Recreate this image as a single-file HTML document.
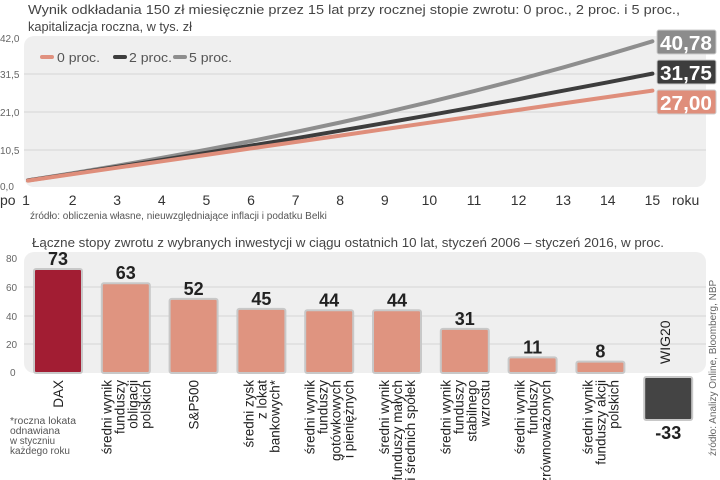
<!DOCTYPE html>
<html><head><meta charset="utf-8"><style>
body{margin:0;background:#fff;}
svg{display:block;font-family:"Liberation Sans",sans-serif;}
</style></head><body>
<svg id="s" width="720" height="480" viewBox="0 0 720 480">
<text x="28" y="14" font-size="13" fill="#444" textLength="652" lengthAdjust="spacingAndGlyphs">Wynik odkładania 150 zł miesięcznie przez 15 lat przy rocznej stopie zwrotu: 0 proc., 2 proc. i 5 proc.,</text>
<text x="28" y="31" font-size="13" fill="#444" textLength="164" lengthAdjust="spacingAndGlyphs">kapitalizacja roczna, w tys. zł</text>
<rect x="24" y="36" width="682" height="151" rx="10" fill="#efefef"/>
<g stroke="#d4d4d4" stroke-width="1">
<line x1="24" y1="74" x2="706" y2="74"/><line x1="24" y1="112" x2="706" y2="112"/><line x1="24" y1="150" x2="706" y2="150"/>
</g>
<g font-size="10" fill="#666">
<text x="0" y="42">42,0</text><text x="0" y="78">31,5</text><text x="0" y="116">21,0</text><text x="0" y="154">10,5</text><text x="0" y="190">0,0</text>
</g>
<g font-size="13" fill="#555">
<line x1="42" y1="57" x2="52" y2="57" stroke="#e0917f" stroke-width="4" stroke-linecap="round"/><text x="57" y="62" textLength="43" lengthAdjust="spacingAndGlyphs">0 proc.</text>
<line x1="115" y1="57" x2="125" y2="57" stroke="#3d3d3d" stroke-width="4" stroke-linecap="round"/><text x="129" y="62" textLength="43" lengthAdjust="spacingAndGlyphs">2 proc.</text>
<line x1="175" y1="57" x2="185" y2="57" stroke="#8e8e8e" stroke-width="4" stroke-linecap="round"/><text x="189" y="62" textLength="43" lengthAdjust="spacingAndGlyphs">5 proc.</text>
</g>
<g id="lines" fill="none" stroke-width="4" stroke-linecap="round"></g>
<rect x="657" y="30" width="59" height="24" rx="2" fill="#8c8c8c" stroke="#ccc"/>
<rect x="657" y="60" width="59" height="24" rx="2" fill="#3d3d3d" stroke="#ccc"/>
<rect x="657" y="90" width="59" height="24" rx="2" fill="#df8e7b" stroke="#ccc"/>
<g font-size="20" font-weight="bold" fill="#fff" text-anchor="middle">
<text x="686" y="50" textLength="52" lengthAdjust="spacingAndGlyphs">40,78</text>
<text x="686" y="80" textLength="52" lengthAdjust="spacingAndGlyphs">31,75</text>
<text x="686" y="110" textLength="52" lengthAdjust="spacingAndGlyphs">27,00</text>
</g>
<g id="xt" font-size="14" fill="#333" text-anchor="middle"></g>
<text x="0" y="205" font-size="14" fill="#333">po</text>
<text x="672" y="205" font-size="14" fill="#333">roku</text>
<text x="30" y="219" font-size="10" fill="#555">źródło: obliczenia własne, nieuwzględniające inflacji i podatku Belki</text>

<text x="32" y="247" font-size="13" fill="#444" textLength="632" lengthAdjust="spacingAndGlyphs">Łączne stopy zwrotu z wybranych inwestycji w ciągu ostatnich 10 lat, styczeń 2006 – styczeń 2016, w proc.</text>
<rect x="24" y="252" width="682" height="121" rx="10" fill="#efefef"/>
<g stroke="#d4d4d4"><line x1="24" y1="287" x2="706" y2="287"/><line x1="24" y1="316" x2="706" y2="316"/><line x1="24" y1="344" x2="706" y2="344"/></g>
<g font-size="10" fill="#666"><text x="6" y="262">80</text><text x="6" y="291">60</text><text x="6" y="320">40</text><text x="6" y="348">20</text><text x="10" y="376">0</text></g>
<g id="bars"></g>
<g font-size="10" fill="#555">
<text x="10" y="424" textLength="66" lengthAdjust="spacingAndGlyphs">*roczna lokata</text><text x="10" y="434" textLength="50" lengthAdjust="spacingAndGlyphs">odnawiana</text><text x="10" y="444" textLength="45" lengthAdjust="spacingAndGlyphs">w styczniu</text><text x="10" y="454" textLength="60" lengthAdjust="spacingAndGlyphs">każdego roku</text>
</g>
<text transform="translate(716,456) rotate(-90)" font-size="10" fill="#666">źródło: Analizy Online, Bloomberg, NBP</text>
</svg>
<script>
var NS="http://www.w3.org/2000/svg";
function el(p,t,a,txt){var e=document.createElementNS(NS,t);for(var k in a)e.setAttribute(k,a[k]);if(txt!==undefined)e.textContent=txt;document.getElementById(p).appendChild(e);return e;}
function X(n){return 28+(n-1)*44.6;}function Y(v){return 187-v*150/42;}
var ser=[[0,"#df8e7b"],[0.02,"#3d3d3d"],[0.05,"#8e8e8e"]].reverse();
ser.forEach(function(s){var r=s[0],pts=[];for(var n=1;n<=15;n++){var v=r==0?1.8*n:1.8*(1+r)*(Math.pow(1+r,n)-1)/r;pts.push(X(n).toFixed(1)+","+Y(v).toFixed(1));}
el("lines","polyline",{points:pts.join(" "),stroke:s[1]});});
for(var n=1;n<=15;n++)el("xt","text",{x:X(n)+(n==1?-2:0),y:205},""+n);
var B=[[73,"#a21d33",["DAX"]],[63,"#df9480",["średni wynik","funduszy","obligacji","polskich"]],[52,"#df9480",["S&P500"]],[45,"#df9480",["średni zysk","z lokat","bankowych*"]],[44,"#df9480",["średni wynik","funduszy","gotówkowych","i pieniężnych"]],[44,"#df9480",["średni wynik","funduszy małych","i średnich spółek"]],[31,"#df9480",["średni wynik","funduszy","stabilnego","wzrostu"]],[11,"#df9480",["średni wynik","funduszy","zrównoważonych"]],[8,"#df9480",["średni wynik","funduszy akcji","polskich"]],[-33,"#444444",[]]];
B.forEach(function(b,i){var x0=34+i*67.8,w=48,cx=x0+w/2,y0=373,h=b[0]*28.5/20;
var top=h>0?y0-h:y0+4,hh=Math.abs(h)-(h<0?4:0);
el("bars","rect",{x:x0,y:top,width:w,height:hh,fill:b[1],stroke:"#c8c8c8","stroke-width":2,rx:2});
var ly=h>0?top-4:top+hh+19;el("bars","text",{x:cx,y:ly,"font-size":18,"font-weight":"bold",fill:"#222","text-anchor":"middle"},(b[0]<0?"-":"")+Math.abs(b[0]));
var L=b[2],m=L.length;L.forEach(function(t,j){var lx=cx+(j-(m-1)/2)*13+5;
el("bars","text",{transform:"translate("+lx+",380) rotate(-90)","font-size":13.5,fill:"#222","text-anchor":"end"},t);});
});
el("bars","text",{transform:"translate(670,364) rotate(-90)","font-size":14,fill:"#222"},"WIG20");
</script>
</body></html>
